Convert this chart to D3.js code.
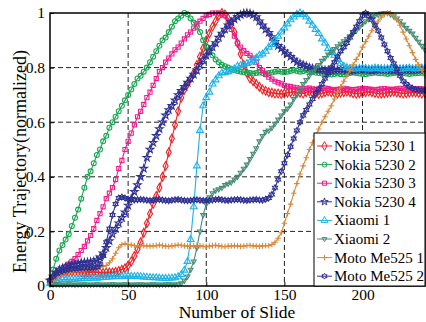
<!DOCTYPE html>
<html>
<head>
<meta charset="utf-8">
<script src="https://cdn.jsdelivr.net/npm/d3@7"></script>
<style>
  html, body { margin: 0; padding: 0; background: #fff; }
  svg text { font-family: "Liberation Serif", "Times New Roman", Tinos, "DejaVu Serif", serif !important; fill: #000; }
</style>
</head>
<body>
<svg id="chart" width="426" height="322"></svg>
<script>
// Normalized energy trajectory per device, sampled every 2 slides (slide 0 .. 240)
const slideStep = 2;

const nokia5230_1 = [
  0.02,0.03,0.04,0.045,0.05,0.05,0.05,0.052,0.05,0.05,
  0.05,0.048,0.05,0.05,0.052,0.05,0.05,0.048,0.05,0.05,
  0.05,0.052,0.055,0.06,0.065,0.075,0.09,0.11,0.135,0.16,
  0.195,0.23,0.265,0.3,0.33,0.36,0.4,0.44,0.49,0.54,
  0.59,0.64,0.69,0.72,0.74,0.76,0.78,0.81,0.84,0.87,
  0.9,0.925,0.95,0.97,0.99,1.0,0.995,0.98,0.96,0.93,
  0.89,0.85,0.81,0.78,0.76,0.75,0.74,0.73,0.72,0.715,
  0.71,0.708,0.705,0.705,0.703,0.705,0.708,0.71,0.712,0.71,
  0.708,0.705,0.71,0.712,0.708,0.705,0.703,0.706,0.71,0.712,
  0.71,0.708,0.705,0.708,0.71,0.712,0.71,0.706,0.704,0.706,
  0.708,0.71,0.712,0.71,0.707,0.705,0.704,0.706,0.708,0.71,
  0.711,0.709,0.707,0.705,0.706,0.708,0.71,0.709,0.707,0.705,
  0.706
];

const nokia5230_2 = [
  0.02,0.06,0.1,0.13,0.15,0.17,0.19,0.22,0.25,0.28,
  0.32,0.36,0.4,0.42,0.45,0.48,0.5,0.53,0.55,0.58,
  0.6,0.62,0.64,0.66,0.68,0.7,0.72,0.74,0.76,0.77,
  0.785,0.8,0.82,0.84,0.86,0.88,0.9,0.91,0.93,0.95,
  0.97,0.98,0.99,1.0,0.995,0.98,0.965,0.95,0.93,0.9,
  0.877,0.86,0.845,0.83,0.82,0.81,0.805,0.8,0.795,0.79,
  0.788,0.785,0.783,0.78,0.78,0.778,0.78,0.782,0.78,0.778,
  0.78,0.782,0.785,0.787,0.785,0.783,0.785,0.788,0.79,0.788,
  0.785,0.787,0.79,0.788,0.785,0.782,0.78,0.778,0.776,0.775,
  0.775,0.777,0.778,0.776,0.775,0.777,0.78,0.782,0.78,0.778,
  0.777,0.776,0.778,0.78,0.782,0.78,0.779,0.778,0.777,0.778,
  0.78,0.781,0.78,0.779,0.778,0.777,0.778,0.779,0.78,0.781,
  0.78
];

const nokia5230_3 = [
  0.02,0.03,0.04,0.05,0.06,0.07,0.08,0.09,0.1,0.115,
  0.13,0.145,0.165,0.185,0.21,0.24,0.265,0.29,0.32,0.34,
  0.36,0.39,0.43,0.46,0.5,0.53,0.56,0.59,0.62,0.64,
  0.665,0.69,0.71,0.735,0.76,0.785,0.8,0.82,0.835,0.85,
  0.865,0.875,0.89,0.905,0.92,0.93,0.945,0.96,0.97,0.98,
  0.99,0.995,1.0,1.0,1.0,0.998,0.99,0.97,0.94,0.915,
  0.89,0.875,0.862,0.852,0.845,0.835,0.82,0.8,0.79,0.775,
  0.765,0.758,0.75,0.745,0.74,0.735,0.732,0.73,0.728,0.726,
  0.724,0.722,0.724,0.725,0.722,0.72,0.722,0.724,0.725,0.723,
  0.72,0.718,0.72,0.722,0.724,0.722,0.72,0.719,0.72,0.722,
  0.724,0.723,0.721,0.72,0.718,0.72,0.722,0.723,0.721,0.72,
  0.72,0.722,0.724,0.722,0.72,0.719,0.72,0.722,0.723,0.722,
  0.72
];

const nokia5230_4 = [
  0.02,0.035,0.05,0.06,0.065,0.07,0.075,0.078,0.08,0.082,
  0.085,0.086,0.087,0.088,0.09,0.095,0.105,0.12,0.14,0.165,
  0.19,0.21,0.23,0.25,0.27,0.295,0.32,0.345,0.37,0.4,
  0.43,0.47,0.5,0.525,0.55,0.575,0.6,0.625,0.645,0.66,
  0.68,0.7,0.715,0.73,0.745,0.76,0.775,0.79,0.81,0.828,
  0.845,0.86,0.875,0.89,0.91,0.925,0.94,0.955,0.967,0.977,
  0.986,0.993,0.998,1.0,0.998,0.993,0.985,0.97,0.955,0.94,
  0.928,0.912,0.895,0.88,0.87,0.86,0.85,0.84,0.83,0.82,
  0.815,0.81,0.805,0.8,0.797,0.795,0.793,0.792,0.791,0.79,
  0.79,0.791,0.792,0.793,0.792,0.79,0.789,0.79,0.792,0.793,
  0.794,0.793,0.791,0.79,0.791,0.793,0.794,0.793,0.792,0.791,
  0.79,0.791,0.793,0.794,0.793,0.792,0.791,0.792,0.793,0.794,
  0.793
];

const xiaomi_1 = [
  0.008,0.015,0.02,0.022,0.024,0.024,0.025,0.024,0.025,0.026,
  0.027,0.028,0.027,0.028,0.029,0.028,0.03,0.032,0.032,0.033,
  0.034,0.035,0.034,0.035,0.036,0.037,0.036,0.035,0.036,0.034,
  0.033,0.032,0.031,0.03,0.03,0.029,0.028,0.028,0.028,0.029,
  0.03,0.034,0.042,0.058,0.09,0.17,0.29,0.44,0.57,0.66,
  0.69,0.71,0.74,0.755,0.77,0.78,0.782,0.785,0.79,0.795,
  0.805,0.808,0.81,0.815,0.82,0.825,0.835,0.845,0.85,0.86,
  0.875,0.885,0.9,0.915,0.93,0.945,0.96,0.975,0.985,0.995,
  1.0,0.995,0.985,0.97,0.955,0.94,0.925,0.905,0.89,0.87,
  0.855,0.845,0.83,0.815,0.805,0.8,0.797,0.795,0.795,0.797,
  0.798,0.797,0.795,0.796,0.798,0.797,0.795,0.794,0.796,0.797,
  0.798,0.796,0.794,0.795,0.797,0.798,0.796,0.795,0.797,0.798,
  0.797
];

const xiaomi_2 = [
  0.006,0.006,0.007,0.006,0.005,0.006,0.007,0.006,0.005,0.006,
  0.006,0.007,0.006,0.005,0.006,0.007,0.006,0.005,0.006,0.006,
  0.007,0.006,0.005,0.006,0.007,0.006,0.005,0.006,0.006,0.007,
  0.006,0.005,0.006,0.007,0.006,0.005,0.006,0.006,0.007,0.006,
  0.006,0.007,0.01,0.02,0.035,0.06,0.09,0.14,0.2,0.26,
  0.3,0.325,0.34,0.35,0.355,0.36,0.37,0.375,0.38,0.39,
  0.4,0.415,0.43,0.445,0.465,0.485,0.505,0.53,0.55,0.565,
  0.57,0.58,0.595,0.61,0.625,0.64,0.65,0.665,0.685,0.7,
  0.72,0.74,0.755,0.77,0.785,0.8,0.81,0.825,0.835,0.848,
  0.858,0.868,0.878,0.888,0.897,0.905,0.915,0.925,0.935,0.948,
  0.96,0.97,0.978,0.985,0.99,0.995,0.998,1.0,1.0,0.995,
  0.988,0.98,0.97,0.958,0.945,0.935,0.925,0.91,0.895,0.88,
  0.865
];

const motoMe525_1 = [
  0.01,0.02,0.03,0.04,0.045,0.05,0.05,0.052,0.053,0.055,
  0.055,0.057,0.06,0.062,0.065,0.067,0.07,0.072,0.075,0.085,
  0.1,0.12,0.14,0.152,0.155,0.152,0.15,0.148,0.147,0.148,
  0.148,0.147,0.146,0.147,0.148,0.15,0.148,0.146,0.145,0.147,
  0.148,0.15,0.149,0.147,0.146,0.145,0.147,0.148,0.147,0.145,
  0.144,0.146,0.148,0.149,0.147,0.145,0.144,0.146,0.147,0.148,
  0.147,0.145,0.146,0.148,0.149,0.147,0.146,0.145,0.147,0.148,
  0.148,0.152,0.16,0.175,0.195,0.23,0.265,0.3,0.34,0.375,
  0.41,0.44,0.47,0.5,0.525,0.55,0.575,0.6,0.62,0.64,
  0.66,0.685,0.71,0.73,0.75,0.77,0.79,0.81,0.83,0.85,
  0.875,0.895,0.915,0.935,0.955,0.97,0.985,0.995,1.0,1.0,
  0.99,0.975,0.955,0.93,0.905,0.88,0.855,0.83,0.81,0.79,
  0.77
];

const motoMe525_2 = [
  0.02,0.035,0.045,0.05,0.055,0.058,0.06,0.062,0.063,0.064,
  0.065,0.066,0.066,0.067,0.068,0.07,0.08,0.11,0.16,0.21,
  0.26,0.3,0.322,0.326,0.322,0.318,0.316,0.315,0.316,0.317,
  0.316,0.314,0.313,0.314,0.316,0.317,0.315,0.313,0.312,0.314,
  0.316,0.317,0.315,0.313,0.312,0.313,0.315,0.316,0.314,0.313,
  0.312,0.313,0.315,0.317,0.318,0.316,0.314,0.313,0.315,0.316,
  0.317,0.316,0.314,0.313,0.315,0.316,0.317,0.315,0.314,0.318,
  0.322,0.335,0.36,0.39,0.42,0.45,0.48,0.51,0.54,0.57,
  0.6,0.625,0.645,0.665,0.685,0.705,0.72,0.74,0.76,0.78,
  0.8,0.82,0.84,0.86,0.875,0.89,0.91,0.93,0.95,0.97,
  0.99,1.0,0.99,0.975,0.955,0.935,0.91,0.885,0.86,0.835,
  0.815,0.795,0.77,0.75,0.74,0.73,0.724,0.72,0.718,0.717,
  0.716
];

const seriesNames = ["Nokia 5230 1", "Nokia 5230 2", "Nokia 5230 3", "Nokia 5230 4",
                     "Xiaomi 1", "Xiaomi 2", "Moto Me525 1", "Moto Me525 2"];
const seriesValues = [nokia5230_1, nokia5230_2, nokia5230_3, nokia5230_4,
                      xiaomi_1, xiaomi_2, motoMe525_1, motoMe525_2];

const xTickValues = [0, 50, 100, 150, 200];
const xTickLabels = ["0", "50", "100", "150", "200"];
const yTickValues = [0, 0.2, 0.4, 0.6, 0.8, 1];
const yTickLabels = ["0", "0.2", "0.4", "0.6", "0.8", "1"];
const xTitle = "Number of Slide";
const yTitle = "Energy Trajectory(normalized)";

const serifFont = '"Liberation Serif", "Times New Roman", Tinos, "DejaVu Serif", serif';

// ---- marker shapes ----
const symbolPlus = {
  draw(ctx, size) {
    const r = Math.sqrt(size) * 0.6;
    ctx.moveTo(-r, 0); ctx.lineTo(r, 0);
    ctx.moveTo(0, -r); ctx.lineTo(0, r);
  }
};
const symbolHexagram = {
  draw(ctx, size) {
    const r = Math.sqrt(size) * 0.62;
    const ri = r / Math.sqrt(3);
    for (let i = 0; i < 12; i++) {
      const a = Math.PI / 6 * i - Math.PI / 2;
      const rr = i % 2 ? ri : r;
      const px = rr * Math.cos(a), py = rr * Math.sin(a);
      if (i === 0) ctx.moveTo(px, py); else ctx.lineTo(px, py);
    }
    ctx.closePath();
  }
};
const symbolTriangleDown = {
  draw(ctx, size) {
    const r = Math.sqrt(size) * 0.62;
    ctx.moveTo(0, r);
    ctx.lineTo(r * 0.866, -r * 0.5);
    ctx.lineTo(-r * 0.866, -r * 0.5);
    ctx.closePath();
  }
};

const styles = [
  { color: "#ec2227", symbol: d3.symbolDiamond, size: 22 },
  { color: "#17a650", symbol: d3.symbolCircle, size: 19 },
  { color: "#ec1e8c", symbol: d3.symbolSquare, size: 17 },
  { color: "#2e3192", symbol: d3.symbolStar, size: 17 },
  { color: "#1bb4e8", symbol: d3.symbolTriangle, size: 20 },
  { color: "#468c76", symbol: symbolTriangleDown, size: 20 },
  { color: "#d6893a", symbol: symbolPlus, size: 22 },
  { color: "#2e3192", symbol: symbolHexagram, size: 22 }
];

// ---- layout ----
const svg = d3.select("#chart");
const plot = { left: 50, right: 425, top: 13, bottom: 286 };

const x = d3.scaleLinear().domain([0, 240]).range([plot.left, plot.right]);
const y = d3.scaleLinear().domain([0, 1]).range([plot.bottom, plot.top]);

// dashed grid
const grid = svg.append("g");
grid.selectAll("line.gx").data(xTickValues.filter(v => v > 0)).join("line")
  .attr("x1", d => x(d)).attr("x2", d => x(d))
  .attr("y1", plot.top).attr("y2", plot.bottom)
  .attr("stroke", "#222").attr("stroke-width", 1).attr("stroke-dasharray", "5,3");
grid.selectAll("line.gy").data(yTickValues.filter(v => v > 0 && v < 1)).join("line")
  .attr("x1", plot.left).attr("x2", plot.right)
  .attr("y1", d => y(d)).attr("y2", d => y(d))
  .attr("stroke", "#222").attr("stroke-width", 1).attr("stroke-dasharray", "5,3");

// series
const lineGen = d3.line().x((d, i) => x(i * slideStep)).y(d => y(d));
const seriesG = svg.append("g");
seriesValues.forEach((vals, k) => {
  const st = styles[k];
  const g = seriesG.append("g");
  g.append("path").datum(vals)
    .attr("d", lineGen)
    .attr("fill", "none").attr("stroke", st.color).attr("stroke-width", 1.1);
  const sym = d3.symbol().type(st.symbol).size(st.size);
  g.selectAll("path.m").data(vals).join("path")
    .attr("class", "m")
    .attr("transform", (d, i) => `translate(${x(i * slideStep)},${y(d)})`)
    .attr("d", sym)
    .attr("fill", "none").attr("stroke", st.color).attr("stroke-width", 1.1);
});

// axes
const xAxis = d3.axisBottom(x).tickValues(xTickValues).tickFormat((d, i) => xTickLabels[i])
  .tickSizeInner(-4).tickSizeOuter(0).tickPadding(5);
const yAxis = d3.axisLeft(y).tickValues(yTickValues).tickFormat((d, i) => yTickLabels[i])
  .tickSizeInner(-4).tickSizeOuter(0).tickPadding(5);

const gx = svg.append("g").attr("transform", `translate(0,${plot.bottom})`).call(xAxis);
const gy = svg.append("g").attr("transform", `translate(${plot.left},0)`).call(yAxis);
[gx, gy].forEach(g => {
  g.attr("font-family", serifFont).attr("font-size", 15.5);
  g.select(".domain").remove();
  g.selectAll(".tick line").attr("stroke", "#000");
  g.selectAll(".tick text").style("font-family", serifFont).style("font-size", "15.5px");
});
gx.selectAll(".tick text").attr("dy", "0.6em");

// frame
svg.append("rect")
  .attr("x", plot.left).attr("y", plot.top)
  .attr("width", plot.right - plot.left).attr("height", plot.bottom - plot.top)
  .attr("fill", "none").attr("stroke", "#000").attr("stroke-width", 1.5);

// axis titles
svg.append("text")
  .attr("x", 237).attr("y", 318)
  .attr("text-anchor", "middle")
  .style("font-family", serifFont).style("font-size", "17.5px")
  .text(xTitle);
svg.append("text")
  .attr("transform", `translate(26,${(plot.top + plot.bottom) / 2 + 12}) rotate(-90)`)
  .attr("text-anchor", "middle")
  .style("font-family", serifFont).style("font-size", "18px")
  .text(yTitle);

// legend
const legend = { x: 314, y: 133, w: 111, h: 153, rowH: 18.6, firstRow: 146 };
const lg = svg.append("g");
lg.append("rect")
  .attr("x", legend.x).attr("y", legend.y).attr("width", legend.w).attr("height", legend.h)
  .attr("fill", "#fff").attr("stroke", "#000").attr("stroke-width", 1);
seriesNames.forEach((name, k) => {
  const st = styles[k];
  const cy = legend.firstRow + k * legend.rowH;
  lg.append("line")
    .attr("x1", legend.x + 3).attr("x2", legend.x + 18)
    .attr("y1", cy).attr("y2", cy)
    .attr("stroke", st.color).attr("stroke-width", 1);
  lg.append("path")
    .attr("transform", `translate(${legend.x + 10.5},${cy})`)
    .attr("d", d3.symbol().type(st.symbol).size(st.size)())
    .attr("fill", "none").attr("stroke", st.color).attr("stroke-width", 1);
  lg.append("text")
    .attr("x", legend.x + 20).attr("y", cy + 5)
    .style("font-family", serifFont).style("font-size", "15px")
    .text(name);
});
</script>
</body>
</html>
